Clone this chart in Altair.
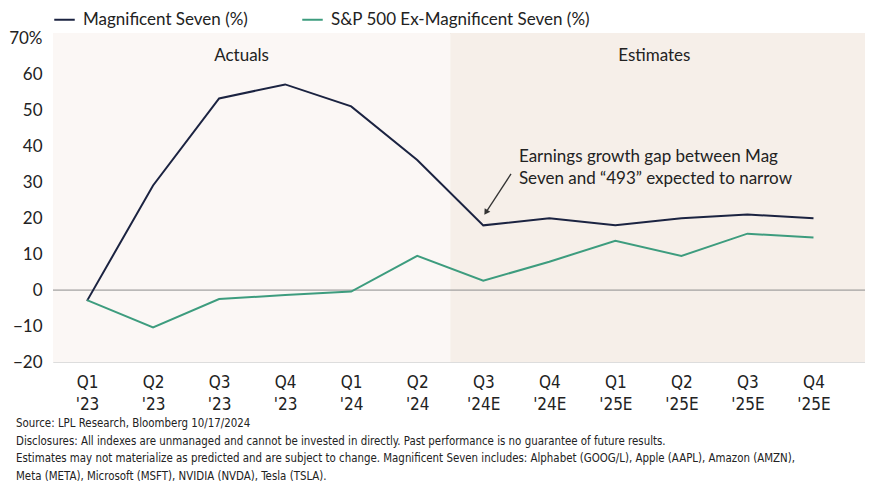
import altair as alt
import pandas as pd

# ---- data ----
quarters = ["Q1|'23", "Q2|'23", "Q3|'23", "Q4|'23", "Q1|'24", "Q2|'24",
            "Q3|'24E", "Q4|'24E", "Q1|'25E", "Q2|'25E", "Q3|'25E", "Q4|'25E"]
mag7 = [-3.0, 29.1, 53.3, 57.2, 51.1, 36.2, 18.0, 20.0, 18.0, 20.0, 21.0, 20.0]
sp493 = [-2.8, -10.4, -2.5, -1.4, -0.4, 9.5, 2.6, 7.9, 13.7, 9.5, 15.7, 14.6]
series_names = ["Magnificent Seven (%)", "S&P 500 Ex-Magnificent Seven (%)"]
series_colors = ["#1b2341", "#3d9c7e"]

x_domain = [-0.515, 11.78]
y_domain = [-20, 71.5]
y_ticks = [-20, -10, 0, 10, 20, 30, 40, 50, 60, 70]

region_names = ["Actuals", "Estimates"]
region_start = [-0.515, 5.5]
region_end = [5.5, 11.78]
region_colors = ["#fbf7f5", "#f6efe9"]
region_label_x = [2.34, 8.59]
region_label_y = [65.0, 65.0]

anno_lines = ["Earnings growth gap between Mag", "Seven and \u201c493\u201d expected to narrow"]
anno_x = [6.54, 6.54]
anno_y = [37.0, 30.8]
arrow_tail = (6.42, 32.3)
arrow_head = (6.04, 21.6)

footnote = [
    "Source: LPL Research, Bloomberg 10/17/2024",
    "Disclosures: All indexes are unmanaged and cannot be invested in directly. Past performance is no guarantee of future results.",
    "Estimates may not materialize as predicted and are subject to change. Magnificent Seven includes: Alphabet (GOOG/L), Apple (AAPL), Amazon (AMZN),",
    "Meta (META), Microsoft (MSFT), NVIDIA (NVDA), Tesla (TSLA).",
]

MAIN_FONT = "Lato, Open Sans, sans-serif"
NARROW_FONT = "Liberation Sans Narrow, DejaVu Sans Condensed, Roboto, sans-serif"

# ---- tables ----
rows = []
for i, q in enumerate(quarters):
    rows.append({"idx": i, "series": series_names[0], "value": mag7[i]})
    rows.append({"idx": i, "series": series_names[1], "value": sp493[i]})
df = pd.DataFrame(rows)

regions = pd.DataFrame({
    "name": region_names, "x0": region_start, "x1": region_end,
    "y0": [y_domain[0]] * 2, "y1": [y_domain[1]] * 2,
    "lx": region_label_x, "ly": region_label_y,
})
anno = pd.DataFrame({"text": anno_lines, "x": anno_x, "y": anno_y})
arrow = pd.DataFrame({"x": [arrow_tail[0]], "y": [arrow_tail[1]],
                      "x2": [arrow_head[0]], "y2": [arrow_head[1]]})
head = pd.DataFrame({"x": [arrow_head[0]], "y": [arrow_head[1]]})

label_array = "[" + ",".join('"' + q + '"' for q in quarters) + "]"

xscale = alt.Scale(domain=x_domain, nice=False, zero=False)
yscale = alt.Scale(domain=y_domain, nice=False, zero=False)

x_axis = alt.Axis(values=list(range(len(quarters))),
                  labelExpr="split(" + label_array + "[datum.value], '|')",
                  title=None, domain=False, ticks=False, grid=False,
                  labelFont=NARROW_FONT, labelFontSize=17, labelColor="#222222",
                  labelPadding=12, labelLineHeight=22, labelFlush=False,
                  labelOverlap=False)
y_axis = alt.Axis(values=y_ticks,
                  labelExpr="datum.value == 70 ? '70%' : datum.label",
                  title=None, domain=False, ticks=False, grid=False,
                  labelFont=MAIN_FONT, labelFontSize=17, labelColor="#222222",
                  labelPadding=11, labelOverlap=False, labelFlush=False)


def X(field):
    return alt.X(field, scale=xscale, axis=x_axis)


def Y(field):
    return alt.Y(field, scale=yscale, axis=y_axis)


bg = alt.Chart(regions).mark_rect().encode(
    x=X("x0:Q"), x2="x1:Q", y=Y("y0:Q"), y2="y1:Q",
    color=alt.Color("name:N", scale=alt.Scale(domain=region_names, range=region_colors), legend=None),
)

region_text = alt.Chart(regions).mark_text(
    font=MAIN_FONT, fontSize=17, color="#222222", baseline="middle", align="center"
).encode(x=X("lx:Q"), y=Y("ly:Q"), text="name:N")

zero = alt.Chart(pd.DataFrame({"v": [0]})).mark_rule(color="#8c8c8c", strokeWidth=1).encode(
    y=Y("v:Q")
)

lines = alt.Chart(df).mark_line(strokeWidth=2).encode(
    x=X("idx:Q"),
    y=Y("value:Q"),
    color=alt.Color("series:N",
                    scale=alt.Scale(domain=series_names, range=series_colors),
                    sort=series_names,
                    legend=alt.Legend(orient="none", legendX=0, legendY=-25,
                                      direction="horizontal", title=None,
                                      symbolType="stroke", symbolSize=420,
                                      symbolStrokeWidth=2, labelFont=MAIN_FONT,
                                      labelFontSize=17, labelColor="#222222",
                                      labelOffset=7, columnPadding=50,
                                      labelLimit=400)),
)

anno_text = alt.Chart(anno).mark_text(
    font=MAIN_FONT, fontSize=17, color="#222222", align="left", baseline="middle"
).encode(x=X("x:Q"), y=Y("y:Q"), text="text:N")

arrow_line = alt.Chart(arrow).mark_rule(color="#333333", strokeWidth=1.3).encode(
    x=X("x:Q"), y=Y("y:Q"), x2="x2:Q", y2="y2:Q"
)
arrow_head = alt.Chart(head).mark_point(
    shape="triangle-up", filled=True, color="#333333", size=45, angle=213, opacity=1
).encode(x=X("x:Q"), y=Y("y:Q"))

chart = alt.layer(bg, region_text, zero, lines, anno_text, arrow_line, arrow_head).resolve_scale(
    color="independent"
).properties(
    width=812, height=329,
    autosize=alt.AutoSizeParams(type="none"),
    padding={"left": 45, "top": 25, "right": 0, "bottom": 126},
    title=alt.TitleParams(text=footnote, orient="bottom", anchor="start", frame="group",
                          font=NARROW_FONT, fontSize=11.4, fontWeight="normal",
                          color="#222222", lineHeight=17.7, dx=-37, offset=6),
).configure_view(stroke=None).configure(background="white")

chart.save("out.html", embed_options={"renderer": "svg", "actions": False})
